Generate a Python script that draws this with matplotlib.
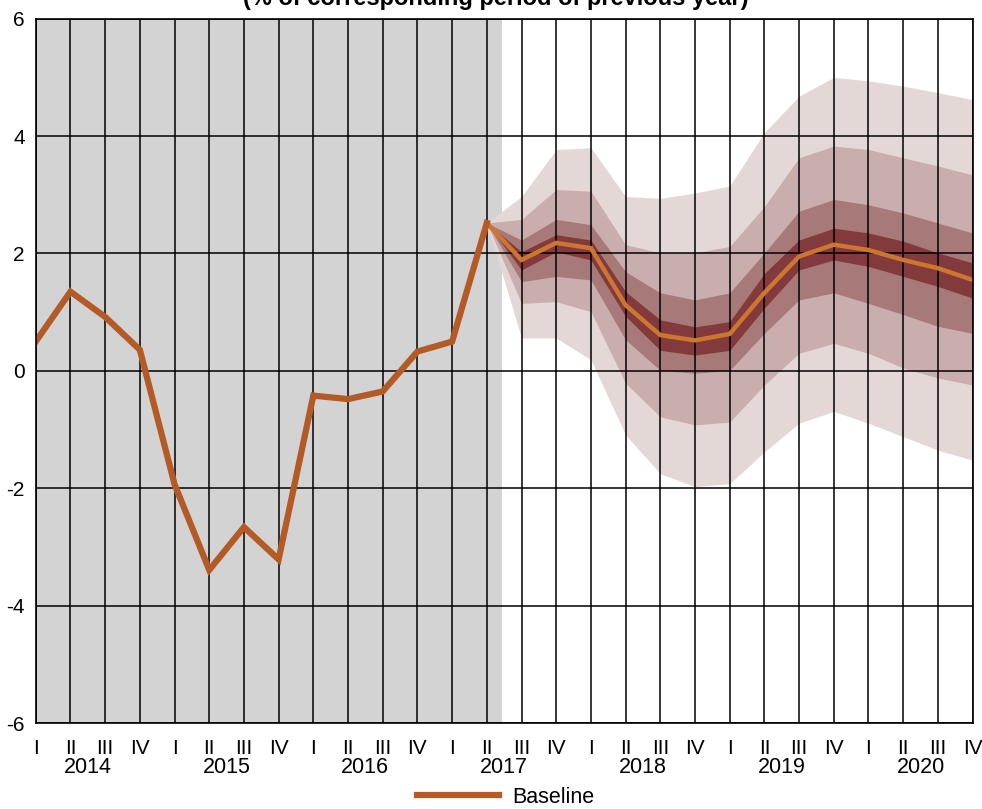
import matplotlib.pyplot as plt
import numpy as np

plt.rcParams['font.family'] = ['Liberation Sans', 'DejaVu Sans']
plt.rcParams['axes.unicode_minus'] = False

# quarters 2014 I .. 2020 IV
years = ['2014', '2015', '2016', '2017', '2018', '2019', '2020']
quarters = ['I', 'II', 'III', 'IV']

# actual data, 2014 I .. 2017 II
actual = [0.50, 1.35, 0.92, 0.36, -1.93, -3.39, -2.66, -3.21,
          -0.42, -0.48, -0.35, 0.33, 0.50, 2.52]

# forecast, 2017 II .. 2020 IV
baseline = [2.52, 1.89, 2.18, 2.09, 1.12, 0.61, 0.52, 0.63,
            1.33, 1.95, 2.15, 2.06, 1.89, 1.75, 1.55]

band90_hi = [2.52, 2.97, 3.77, 3.80, 2.97, 2.94, 3.03, 3.15, 4.06, 4.68, 5.00, 4.94, 4.85, 4.74, 4.62]
band90_lo = [2.52, 0.56, 0.56, 0.19, -1.09, -1.75, -1.97, -1.92, -1.38, -0.89, -0.69, -0.89, -1.12, -1.35, -1.52]
band70_hi = [2.52, 2.58, 3.09, 3.06, 2.15, 2.01, 2.01, 2.12, 2.80, 3.63, 3.83, 3.77, 3.63, 3.49, 3.34]
band70_lo = [2.52, 1.15, 1.18, 1.01, -0.21, -0.78, -0.92, -0.87, -0.24, 0.30, 0.47, 0.30, 0.05, -0.12, -0.24]
band50_hi = [2.52, 2.23, 2.58, 2.49, 1.69, 1.33, 1.21, 1.33, 2.01, 2.72, 2.92, 2.83, 2.69, 2.52, 2.35]
band50_lo = [2.52, 1.52, 1.61, 1.55, 0.53, 0.01, -0.04, 0.01, 0.64, 1.21, 1.33, 1.15, 0.96, 0.76, 0.64]
band30_hi = [2.52, 2.03, 2.32, 2.23, 1.35, 0.87, 0.75, 0.84, 1.66, 2.23, 2.43, 2.35, 2.21, 2.01, 1.84]
band30_lo = [2.52, 1.72, 2.03, 1.89, 0.93, 0.35, 0.27, 0.35, 1.07, 1.72, 1.89, 1.78, 1.61, 1.44, 1.24]

n_q = len(years) * len(quarters)
x_all = np.arange(n_q)
x_act = x_all[:len(actual)]
x_fc = x_all[len(actual) - 1:]

fig = plt.figure(figsize=(9.82, 8.09), dpi=100)
ax = fig.add_axes([0.0364, 0.106, 0.954, 0.871])

# history shaded grey
ax.axvspan(0, len(actual) - 0.55, color='#D3D3D3', zorder=0, lw=0)

bands = [(band90_lo, band90_hi, '#E3D8D6'),
         (band70_lo, band70_hi, '#C9AEAD'),
         (band50_lo, band50_hi, '#A77A79'),
         (band30_lo, band30_hi, '#823A3C')]
for lo, hi, col in bands:
    ax.fill_between(x_fc, lo, hi, color=col, lw=0, zorder=1)

ax.set_xlim(0, n_q - 1)
ax.set_ylim(-6, 6)
ax.set_yticks(np.arange(-6, 7, 2))
ax.set_xticks(x_all)
ax.set_xticklabels(quarters * len(years))
ax.grid(True, color='black', lw=1.1, zorder=2)
ax.set_axisbelow(False)
for sp in ax.spines.values():
    sp.set_linewidth(1.2)
    sp.set_zorder(5)
ax.tick_params(length=0, labelsize=15, pad=8)
ax.tick_params(axis='x', pad=11)

ax.plot(x_fc, baseline, color='#CC7630', lw=3.2, zorder=3, solid_joinstyle='miter')
line, = ax.plot(x_act, actual, color='#B35A26', lw=4.5, zorder=4, solid_joinstyle='miter')

for i, yr in enumerate(years):
    ax.annotate(yr, xy=(i * 4 + 1.5, 0), xycoords=('data', 'axes fraction'),
                xytext=(0, -24), textcoords='offset points',
                ha='center', va='top', fontsize=15.5)

fig.text(0.505, 0.9938, '(% of corresponding period of previous year)',
         ha='center', va='baseline', fontsize=17, fontweight='bold')

fig.legend([line], ['Baseline'], loc='center', bbox_to_anchor=(0.515, 0.0148),
           frameon=False, fontsize=15.5, handlelength=3.8, handletextpad=0.6)

fig.savefig('out.png', dpi=100)
